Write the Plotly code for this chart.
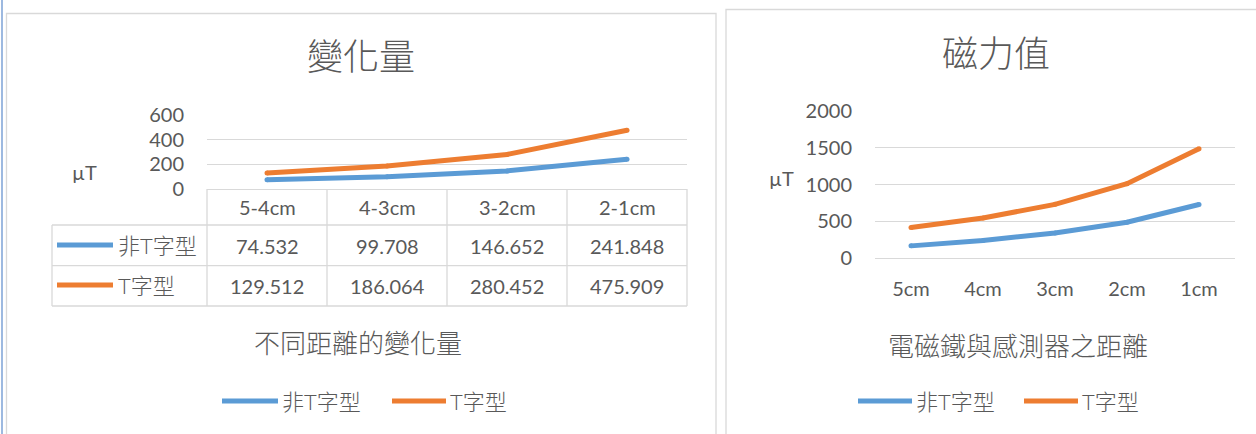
import plotly.graph_objects as go

W, H = 1256, 434

# ---- data ----
diff_labels = ["5-4cm", "4-3cm", "3-2cm", "2-1cm"]
diff_nonT = [74.532, 99.708, 146.652, 241.848]
diff_T = [129.512, 186.064, 280.452, 475.909]

dist_labels = ["5cm", "4cm", "3cm", "2cm", "1cm"]
field_nonT = [165.1, 239.6, 339.3, 486.0, 727.8]
field_T = [414.1, 543.6, 729.7, 1010.1, 1486.0]

series_names = ["非T字型", "T字型"]
left_yticks = [0, 200, 400, 600]
right_yticks = [0, 500, 1000, 1500, 2000]

# ---- style ----
BLUE = "#5B9BD5"
ORANGE = "#ED7D31"
TEXT = "#595959"
GRID = "#D9D9D9"
FONT = "Lato, 'Noto Sans CJK TC', sans-serif"
LW = 5


def px(x):
    return x / W


def py(y):
    return 1 - y / H


fig = go.Figure()

for xs, ys, color, name, xa, ya in [
    (diff_labels, diff_nonT, BLUE, series_names[0], "x", "y"),
    (diff_labels, diff_T, ORANGE, series_names[1], "x", "y"),
    (dist_labels, field_nonT, BLUE, series_names[0], "x2", "y2"),
    (dist_labels, field_T, ORANGE, series_names[1], "x2", "y2"),
]:
    fig.add_trace(go.Scatter(
        x=xs, y=ys, name=name, xaxis=xa, yaxis=ya,
        mode="lines+markers",
        line=dict(color=color, width=LW),
        marker=dict(color=color, size=LW),
        showlegend=False, hoverinfo="x+y+name",
    ))

shapes = []
annotations = []


def hline(x0, x1, y, color=GRID, width=1.3):
    shapes.append(dict(type="line", xref="paper", yref="paper",
                       x0=px(x0), x1=px(x1), y0=py(y), y1=py(y),
                       line=dict(color=color, width=width)))


def vline(x, y0, y1, color=GRID, width=1.3):
    shapes.append(dict(type="line", xref="paper", yref="paper",
                       x0=px(x), x1=px(x), y0=py(y0), y1=py(y1),
                       line=dict(color=color, width=width)))


def label(x, y, text, size, xanchor="center", color=TEXT, weight=None):
    font = dict(family=FONT, size=size, color=color)
    if weight:
        font["weight"] = weight
    annotations.append(dict(xref="paper", yref="paper", x=px(x), y=py(y),
                            text=text, showarrow=False, xanchor=xanchor,
                            yanchor="middle", font=font))


# selection edge and chart frames
vline(2, 0, 434, color="#9DB9E0", width=2)
shapes.append(dict(type="rect", xref="paper", yref="paper",
                   x0=px(6.5), x1=px(716), y0=py(13.5), y1=py(460),
                   line=dict(color=GRID, width=1.3)))
shapes.append(dict(type="rect", xref="paper", yref="paper",
                   x0=px(726), x1=px(1275), y0=py(9.5), y1=py(460),
                   line=dict(color=GRID, width=1.3)))

# ---- left chart: data table under the plot ----
col_edges = [207, 327, 447, 567, 687]
for y in (225, 265.7, 306):
    hline(52, 687, y)
vline(52, 225, 306)
for x in col_edges:
    vline(x, 189, 306)

for cat, a, b in zip(diff_labels, diff_nonT, diff_T):
    for y, txt in ((207, cat), (245.7, f"{a:.3f}"), (286, f"{b:.3f}")):
        annotations.append(dict(xref="x", yref="paper", x=cat, y=py(y),
                                text=txt, showarrow=False, yanchor="middle",
                                font=dict(family=FONT, size=20, color=TEXT)))

for y, color, name in ((245, BLUE, series_names[0]), (285, ORANGE, series_names[1])):
    hline(57, 113, y, color=color, width=LW)
    label(116, y, name, 22, xanchor="left", weight=300)

# titles, axis labels
label(361, 56, "變化量", 36, weight=300)
label(996, 53, "磁力值", 36, weight=300)
label(84.5, 172, "µT", 20)
label(781, 178, "µT", 20)
label(357.5, 343, "不同距離的變化量", 26, weight=300)
label(1018, 346, "電磁鐵與感測器之距離", 26, weight=300)

# legends
for (k0, k1), color, name in (((222, 278), BLUE, series_names[0]),
                              ((392, 446), ORANGE, series_names[1]),
                              ((858, 912), BLUE, series_names[0]),
                              ((1024, 1078), ORANGE, series_names[1])):
    hline(k0, k1, 401, color=color, width=LW)
    label(k1 + 2, 401, name, 22, xanchor="left", weight=300)

axis_font = dict(family=FONT, size=20, color=TEXT)

fig.update_layout(
    width=W, height=H,
    margin=dict(l=0, r=0, t=0, b=0, pad=0, autoexpand=False),
    paper_bgcolor="white", plot_bgcolor="white",
    shapes=shapes, annotations=annotations,
    xaxis=dict(domain=[px(207), px(687)], anchor="y", type="category",
               range=[-0.5, 3.5], showticklabels=False, showgrid=False,
               zeroline=False, showline=True, linecolor=GRID, linewidth=1.3,
               automargin=False),
    yaxis=dict(domain=[py(189), py(115)], anchor="x", range=[0, 600],
               tickvals=left_yticks, showgrid=True, gridcolor=GRID,
               gridwidth=1.3, zeroline=False, showline=False,
               tickfont=axis_font, ticklabelstandoff=22, automargin=False),
    xaxis2=dict(domain=[px(875), px(1235)], anchor="y2", type="category",
                range=[-0.5, 4.5], showgrid=False, zeroline=False,
                showline=True, linecolor=GRID, linewidth=1.3,
                tickfont=axis_font, ticklabelstandoff=13, automargin=False),
    yaxis2=dict(domain=[py(258), py(111)], anchor="x2", range=[0, 2000],
                tickvals=right_yticks, showgrid=True, gridcolor=GRID,
                gridwidth=1.3, zeroline=False, showline=False,
                tickfont=axis_font, ticklabelstandoff=22, automargin=False),
)

fig.write_html("out.html")
